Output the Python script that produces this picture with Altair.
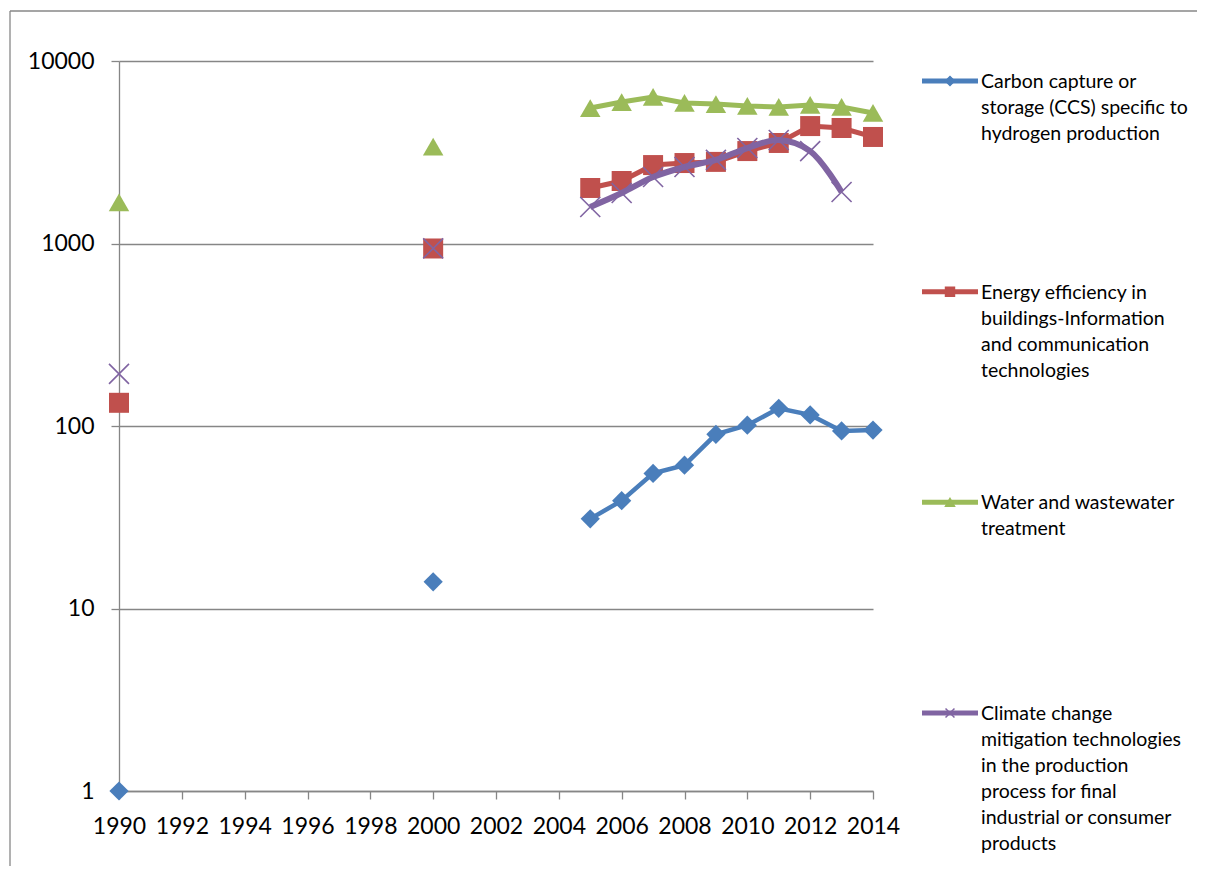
import altair as alt
import pandas as pd

years = [1990, 2000, 2005, 2006, 2007, 2008, 2009, 2010, 2011, 2012, 2013, 2014]
ccs = [1, 14, 31, 39, 55, 61, 90, 101, 125, 115, 94, 95]
energy = [134, 939, 2015, 2200, 2690, 2760, 2800, 3210, 3555, 4400, 4295, 3835]
water = [1678, 3400, 5525, 5960, 6350, 5890, 5810, 5670, 5600, 5740, 5600, 5190]
climate = [193, 940, 1585, 1890, 2313, 2625, 2870, 3335, 3690, 3210, 1915, None]

keys = ["ccs", "energy", "water", "climate"]
legend_labels = [
    "Carbon capture or\nstorage (CCS) specific to\nhydrogen production",
    "Energy efficiency in\nbuildings-Information\nand communication\ntechnologies",
    "Water and wastewater\ntreatment",
    "Climate change\nmitigation technologies\nin the production\nprocess for final\nindustrial or consumer\nproducts",
]
colors = ["#4A7EBB", "#C0504D", "#9BBB59", "#8064A2"]
shapes = ["diamond", "square", "triangle-up", "M-1,-1L1,1M-1,1L1,-1"]
marker_sizes = [370, 400, 420, 400]
line_widths = [4.5, 5, 5, 6]
interps = ["linear", "linear", "linear", "catmull-rom"]
x_ticks = list(range(1990, 2015, 2))
y_ticks = [1, 10, 100, 1000, 10000]

rows = []
for key, vals in zip(keys, [ccs, energy, water, climate]):
    for yr, v in zip(years, vals):
        if v is not None:
            rows.append({"series": key, "year": yr, "value": v})
df = pd.DataFrame(rows)

x = alt.X("year:Q", scale=alt.Scale(domain=[1990, 2014], nice=False, zero=False),
          axis=alt.Axis(values=x_ticks, format="d", grid=False, tickSize=8,
                        labelPadding=16, title=None, labelFlush=False))
y = alt.Y("value:Q", scale=alt.Scale(type="log", domain=[1, 10000], nice=False),
          axis=alt.Axis(values=y_ticks, format="d", grid=True, tickSize=8,
                        labelPadding=17, title=None))

main_layers = []
for i, key in enumerate(keys):
    base = alt.Chart(df).transform_filter(alt.datum.series == key)
    line = base.transform_filter(alt.datum.year >= 2005).mark_line(
        color=colors[i], strokeWidth=line_widths[i], interpolate=interps[i]
    ).encode(x=x, y=y)
    if key == "climate":
        pts = base.mark_point(shape=shapes[i], filled=False, size=marker_sizes[i],
                              color=colors[i], strokeWidth=1.6, opacity=1).encode(x=x, y=y)
    else:
        pts = base.mark_point(shape=shapes[i], filled=True, size=marker_sizes[i],
                              color=colors[i], opacity=1).encode(x=x, y=y)
    main_layers += [line, pts]

main = alt.layer(*main_layers)

leg_df = pd.DataFrame({"series": keys, "label": legend_labels})
ly = alt.Y("series:N", scale=alt.Scale(type="point", domain=keys, range=[20, 652], padding=0),
           axis=None)
col = alt.Color("series:N", scale=alt.Scale(domain=keys, range=colors), legend=None)
leg_rule = alt.Chart(leg_df).mark_rule(strokeWidth=5).encode(
    x=alt.value(803), x2=alt.value(859), y=ly, color=col)
leg_pt = alt.Chart(leg_df).mark_point(filled=True, size=80, opacity=1, strokeWidth=1.5).encode(
    x=alt.value(831), y=ly, color=col,
    stroke=alt.Stroke("series:N", scale=alt.Scale(domain=keys, range=colors), legend=None),
    shape=alt.Shape("series:N", scale=alt.Scale(domain=keys, range=shapes), legend=None))
leg_text = alt.Chart(leg_df).mark_text(
    align="left", baseline="top", dy=-8, fontSize=19.5, lineHeight=26, lineBreak="\n",
    font="Lato", color="#000000").encode(x=alt.value(862), y=ly, text="label:N")

border_df = pd.DataFrame({"k": [0]})
border_top = alt.Chart(border_df).mark_rule(color="#878787", strokeWidth=1.3).encode(
    x=alt.value(-109), x2=alt.value(1078), y=alt.value(-50))
border_left = alt.Chart(border_df).mark_rule(color="#878787", strokeWidth=1.3).encode(
    x=alt.value(-109), y=alt.value(-50), y2=alt.value(806))

legend = alt.layer(leg_rule, leg_pt, leg_text, border_top, border_left)

chart = alt.layer(main, legend).resolve_scale(
    y="independent", color="independent"
).properties(
    width=754, height=730,
    autosize=alt.AutoSizeParams(type="none"),
    padding={"left": 111, "top": 53, "right": 324, "bottom": 75},
).configure_view(stroke=None).configure_axis(
    domainColor="#868686", tickColor="#868686", gridColor="#868686",
    domainWidth=1.3, tickWidth=1.3, gridWidth=1.3,
    labelFont="Lato", labelFontSize=23, labelColor="#000000",
)

chart.save("out.html", embed_options={"renderer": "svg", "actions": False})
